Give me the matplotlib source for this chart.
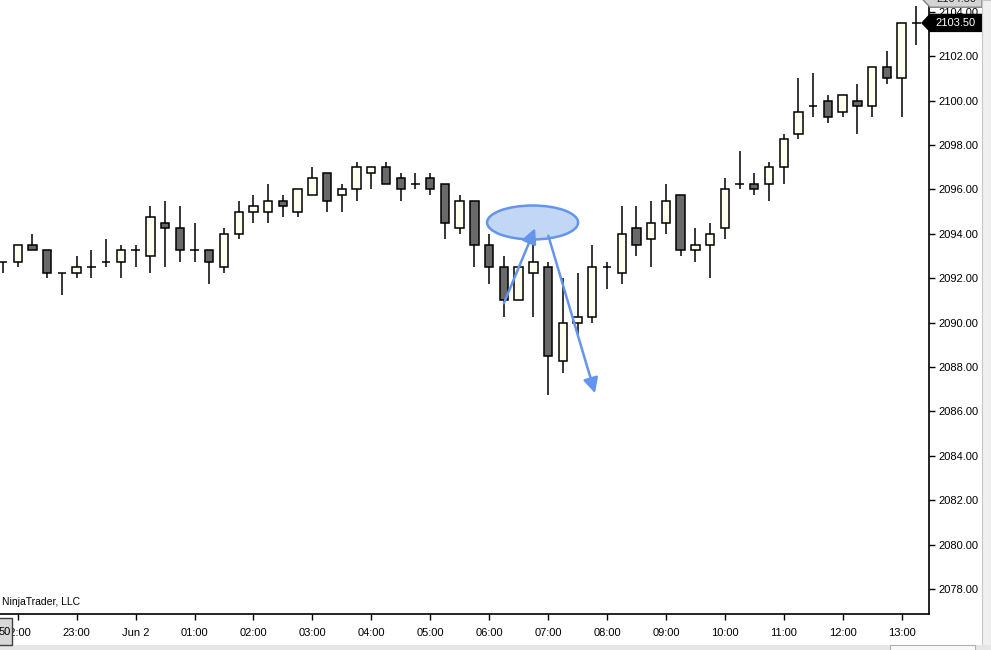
import matplotlib
matplotlib.use("Agg")
import matplotlib.pyplot as plt
from matplotlib.patches import Ellipse, Polygon, Rectangle
from matplotlib.transforms import IdentityTransform
import numpy as np

plt.rcParams['font.family'] = ['Liberation Sans', 'DejaVu Sans']

# ---- data (15-minute bars, ES futures) ----
opens = [2092.75, 2092.75, 2093.5, 2093.25, 2092.25, 2092.25, 2092.5, 2092.75, 2092.75, 2093.25,
         2093.0, 2094.5, 2094.25, 2093.25, 2093.25, 2092.5, 2094.0, 2095.0, 2095.0, 2095.5,
         2095.0, 2095.75, 2096.75, 2095.75, 2096.0, 2096.75, 2097.0, 2096.5, 2096.25, 2096.5,
         2096.25, 2094.25, 2095.5, 2093.5, 2092.5, 2091.0, 2092.25, 2092.5, 2088.25, 2090.0,
         2090.25, 2092.5, 2092.25, 2094.25, 2093.75, 2094.5, 2095.75, 2093.25, 2093.5, 2094.25,
         2096.25, 2096.25, 2096.25, 2097.0, 2098.5, 2099.75, 2100.0, 2099.5, 2100.0, 2099.75,
         2101.5, 2101.0, 2103.5]
highs = [2092.75, 2093.5, 2094.0, 2093.25, 2092.25, 2093.0, 2093.25, 2093.75, 2093.5, 2093.5,
         2095.25, 2095.5, 2095.25, 2094.5, 2093.25, 2094.25, 2095.5, 2095.75, 2096.25, 2095.75,
         2096.0, 2097.0, 2096.75, 2096.25, 2097.25, 2097.0, 2097.25, 2096.75, 2096.75, 2096.75,
         2096.25, 2095.75, 2095.5, 2094.0, 2093.0, 2092.5, 2093.5, 2092.75, 2092.0, 2092.25,
         2093.5, 2092.75, 2095.25, 2095.25, 2095.5, 2096.25, 2095.75, 2094.25, 2094.5, 2096.5,
         2097.75, 2096.75, 2097.25, 2098.5, 2101.0, 2101.25, 2100.25, 2100.25, 2100.75, 2101.5,
         2102.25, 2103.5, 2104.25]
lows = [2092.25, 2092.5, 2093.25, 2092.0, 2091.25, 2092.0, 2092.0, 2092.5, 2092.0, 2092.5,
        2092.25, 2092.5, 2092.75, 2092.75, 2091.75, 2092.25, 2093.75, 2094.5, 2094.5, 2094.75,
        2094.75, 2095.75, 2095.0, 2095.0, 2095.5, 2096.0, 2096.25, 2095.5, 2096.0, 2095.75,
        2093.75, 2094.0, 2092.5, 2091.75, 2090.25, 2091.0, 2090.25, 2086.75, 2087.75, 2089.5,
        2090.0, 2091.5, 2091.75, 2093.0, 2092.5, 2094.0, 2093.0, 2092.75, 2092.0, 2093.75,
        2096.0, 2095.75, 2095.5, 2096.25, 2098.25, 2099.25, 2099.0, 2099.25, 2098.5, 2099.25,
        2100.75, 2099.25, 2102.5]
closes = [2092.75, 2093.5, 2093.25, 2092.25, 2092.25, 2092.5, 2092.5, 2092.75, 2093.25, 2093.25,
          2094.75, 2094.25, 2093.25, 2093.25, 2092.75, 2094.0, 2095.0, 2095.25, 2095.5, 2095.25,
          2096.0, 2096.5, 2095.5, 2096.0, 2097.0, 2097.0, 2096.25, 2096.0, 2096.25, 2096.0,
          2094.5, 2095.5, 2093.5, 2092.5, 2091.0, 2092.5, 2092.75, 2088.5, 2090.0, 2090.25,
          2092.5, 2092.5, 2094.0, 2093.5, 2094.5, 2095.5, 2093.25, 2093.5, 2094.0, 2096.0,
          2096.25, 2096.0, 2097.0, 2098.25, 2099.5, 2099.75, 2099.25, 2100.25, 2099.75, 2101.5,
          2101.0, 2103.5, 2103.5]

time_labels = ["22:00", "23:00", "Jun 2", "01:00", "02:00", "03:00", "04:00", "05:00",
               "06:00", "07:00", "08:00", "09:00", "10:00", "11:00", "12:00", "13:00"]
label_bar_index = [1, 5, 9, 13, 17, 21, 25, 29, 33, 37, 41, 45, 49, 53, 57, 61]

price_ticks = [2078, 2080, 2082, 2084, 2086, 2088, 2090, 2092, 2094, 2096, 2098, 2100, 2102, 2104]
last_price = 2103.50
marker_price = 2104.50

# annotation (ellipse + two arrows), in bar-index / price units
ellipse_center = (35.95, 2094.51)
ellipse_size = (6.18, 1.53)
arrow1 = ((34.0, 2090.87), (36.12, 2094.25))
arrow2 = ((37.02, 2093.91), (40.19, 2086.82))

# ---- figure ----
W, H = 991, 650
fig = plt.figure(figsize=(W / 100, H / 100), dpi=100)
fig.patch.set_facecolor('white')
ax = fig.add_axes([0, 36 / H, 929 / W, 614 / H])
ax.set_facecolor('white')

n = len(opens)
x = np.arange(n)
o = np.array(opens); h = np.array(highs); l = np.array(lows); c = np.array(closes)

bw = 0.57
ax.vlines(x, l, h, color='black', lw=1.1, zorder=2)
up = c > o
dn = c < o
eq = c == o
ax.bar(x[up], (c - o)[up], bottom=o[up], width=bw, facecolor='#FFFFF0',
       edgecolor='black', lw=1.1, zorder=3)
ax.bar(x[dn], (o - c)[dn], bottom=c[dn], width=bw, facecolor='#696969',
       edgecolor='black', lw=1.1, zorder=3)
ax.hlines(c[eq], x[eq] - bw / 2, x[eq] + bw / 2, color='black', lw=1.1, zorder=3)

ax.set_xlim(-0.204, 62.86)
ax.set_ylim(2076.874, 2104.532)

# annotations
ell = Ellipse(ellipse_center, ellipse_size[0], ellipse_size[1], facecolor='#C2D6F6',
              edgecolor='#6495ED', lw=1.8, zorder=5)
ax.add_patch(ell)
for (s, e) in (arrow1, arrow2):
    ax.annotate('', xy=e, xytext=s,
                arrowprops=dict(arrowstyle='-|>,head_length=0.9,head_width=0.45',
                                color='#6495ED', lw=1.8, shrinkA=0, shrinkB=0),
                zorder=6)

# spines / ticks
for sp in ('left', 'top'):
    ax.spines[sp].set_visible(False)
for sp in ('right', 'bottom'):
    ax.spines[sp].set_color('black')
    ax.spines[sp].set_linewidth(1.2)

ax.yaxis.tick_right()
ax.set_yticks(price_ticks)
ax.set_yticklabels([f"{p:.2f}" for p in price_ticks])
ax.set_xticks(label_bar_index)
ax.set_xticklabels(time_labels)
ax.tick_params(axis='both', direction='out', length=4, width=1, colors='black',
               labelsize=8, labelcolor='black')
ax.tick_params(axis='y', pad=3)
ax.tick_params(axis='x', pad=6)

ax.text(0.002, 0.012, "NinjaTrader, LLC", transform=ax.transAxes, fontsize=7.5,
        ha='left', va='bottom', color='black')

fig.canvas.draw()


def price_to_pix(p):
    return ax.transData.transform((0, p))[1]


def pointer_label(ypix, text, face, edge, tcolor):
    hh = 8.5
    pts = [(922, ypix), (930, ypix + hh), (982, ypix + hh), (982, ypix - hh), (930, ypix - hh)]
    poly = Polygon(pts, closed=True, facecolor=face, edgecolor=edge, lw=1,
                   transform=IdentityTransform(), zorder=10)
    fig.add_artist(poly)
    fig.text(956 / W, ypix / H, text, ha='center', va='center', fontsize=8,
             color=tcolor, zorder=11)


pointer_label(price_to_pix(marker_price) + 2.0, f"{marker_price:.2f}", '#D4D4D4', '#808080', '#202020')
pointer_label(price_to_pix(last_price), f"{last_price:.2f}", 'black', 'black', 'white')

# window chrome: right and bottom strips, bottom-left box, scrollbar
fig.add_artist(Rectangle((982 / W, 0), 9 / W, 1, transform=fig.transFigure,
                         facecolor='#F0F0F0', edgecolor='#C8C8C8', lw=0.8, zorder=12))
fig.add_artist(Rectangle((0, 0), 1, 5 / H, transform=fig.transFigure,
                         facecolor='#E6E6E6', edgecolor='none', zorder=12))
fig.add_artist(Rectangle((890 / W, 0), 85 / W, 5 / H, transform=fig.transFigure,
                         facecolor='#FAFAFA', edgecolor='#B0B0B0', lw=0.8, zorder=13))
fig.add_artist(Rectangle((-2 / W, 5 / H), 14 / W, 27 / H, transform=fig.transFigure,
                         facecolor='#D8D8D8', edgecolor='#404040', lw=1, zorder=13))
fig.text(11 / W, 18 / H, "50", ha='right', va='center', fontsize=8, color='black', zorder=14)

fig.savefig("out.png", dpi=100)
